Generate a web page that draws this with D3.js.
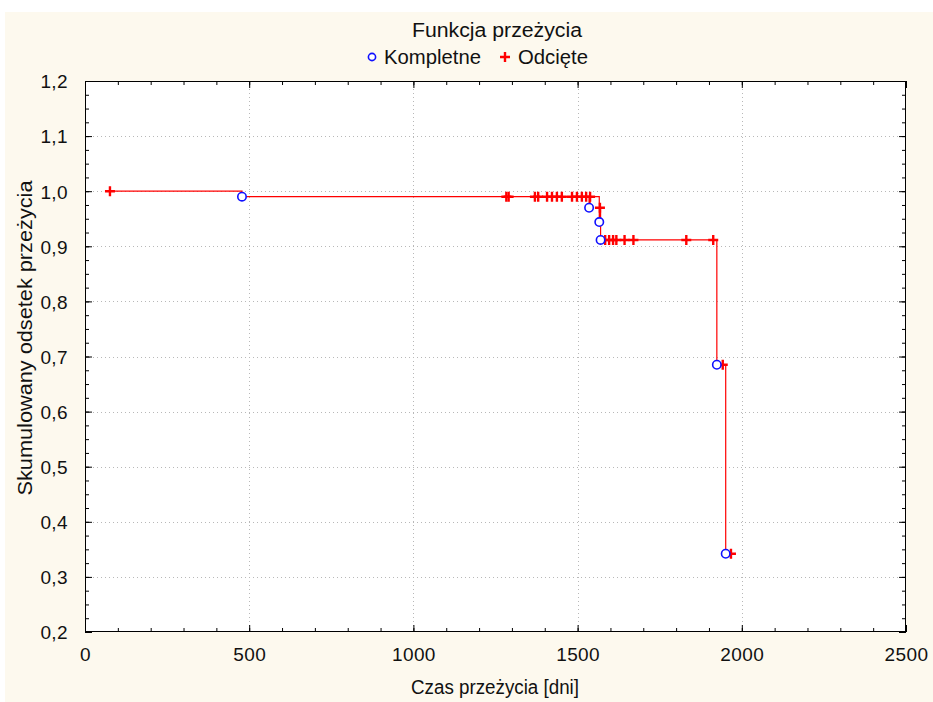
<!DOCTYPE html>
<html><head><meta charset="utf-8">
<script src="https://cdn.jsdelivr.net/npm/d3@7/dist/d3.min.js"></script>
<style>body{margin:0;background:#fff;}svg{display:block;}text{font-family:"Liberation Sans",Arial,sans-serif;fill:#111;}</style>
</head><body><svg id="c" width="933" height="702"></svg>
<script>
// Kompletne (complete / event) observations
const eventTimes = [478, 1535, 1566, 1570, 1924, 1951];
const eventSurv  = [0.990, 0.970, 0.944, 0.9115, 0.685, 0.342];
// Odcięte (censored) observations
const censTimes = [76, 1283, 1290, 1370, 1380, 1407, 1422, 1437, 1452, 1483, 1498, 1513, 1526, 1538,
                   1568, 1584, 1596, 1608, 1618, 1643, 1670, 1831, 1913, 1942, 1967];
const censSurv  = [1.0, 0.99, 0.99, 0.99, 0.99, 0.99, 0.99, 0.99, 0.99, 0.99, 0.99, 0.99, 0.99, 0.99,
                   0.97, 0.9115, 0.9115, 0.9115, 0.9115, 0.9115, 0.9115, 0.9115, 0.9115, 0.685, 0.342];
const xTicks = [0, 500, 1000, 1500, 2000, 2500];
const yTicks = [0.2, 0.3, 0.4, 0.5, 0.6, 0.7, 0.8, 0.9, 1.0, 1.1, 1.2];
const titleText = "Funkcja przeżycia";
const legendLabels = ["Kompletne", "Odcięte"];
const xLabel = "Czas przeżycia [dni]";
const yLabel = "Skumulowany odsetek przeżycia";

const svg = d3.select("#c");
const L = 85, R = 906, T = 81, B = 632;
const x = d3.scaleLinear().domain([0, 2500]).range([L, R]);
const y = d3.scaleLinear().domain([0.2, 1.2]).range([B, T]);
const fmt = d => d3.format(".1f")(d).replace(".", ",");

// backgrounds
svg.append("rect").attr("x", 0).attr("y", 0).attr("width", 933).attr("height", 702).attr("fill", "#fff");
svg.append("rect").attr("x", 5).attr("y", 12).attr("width", 928).attr("height", 690).attr("fill", "#FDF9EE");
svg.append("rect").attr("x", L).attr("y", T).attr("width", R - L).attr("height", B - T).attr("fill", "#fff");

// grid
const g = svg.append("g");
g.selectAll(".gx").data(xTicks.slice(1, -1)).join("line")
  .attr("x1", d => Math.round(x(d)) + 0.5).attr("x2", d => Math.round(x(d)) + 0.5).attr("y1", T).attr("y2", B)
  .attr("stroke", "#b8b8b8").attr("stroke-dasharray", "1,3");
g.selectAll(".gy").data(yTicks.slice(1, -1)).join("line")
  .attr("y1", d => Math.round(y(d)) + 0.5).attr("y2", d => Math.round(y(d)) + 0.5).attr("x1", L).attr("x2", R)
  .attr("stroke", "#b8b8b8").attr("stroke-dasharray", "1,3");

// axes with inward ticks
const xMinor = d3.range(0, 2501, 100);
const yMinor = d3.range(0, 41).map(i => 0.2 + i * 0.025);
svg.append("g").attr("transform", `translate(0,${B})`)
  .call(d3.axisBottom(x).tickValues(xTicks).tickSize(-7).tickPadding(16).tickFormat(d3.format("d")));
svg.append("g").attr("transform", `translate(0,${B})`)
  .call(d3.axisBottom(x).tickValues(xMinor).tickSize(-4).tickFormat(""));
svg.append("g").attr("transform", `translate(0,${T})`)
  .call(d3.axisTop(x).tickValues(xTicks).tickSize(-7).tickFormat(""));
svg.append("g").attr("transform", `translate(0,${T})`)
  .call(d3.axisTop(x).tickValues(xMinor).tickSize(-4).tickFormat(""));
const ay = svg.append("g").attr("transform", `translate(${L},0)`)
  .call(d3.axisLeft(y).tickValues(yTicks).tickSize(-7).tickPadding(17).tickFormat(fmt));
svg.append("g").attr("transform", `translate(${L},0)`)
  .call(d3.axisLeft(y).tickValues(yMinor).tickSize(-4).tickFormat(""));
svg.append("g").attr("transform", `translate(${R},0)`)
  .call(d3.axisRight(y).tickValues(yTicks).tickSize(-7).tickFormat(""));
svg.append("g").attr("transform", `translate(${R},0)`)
  .call(d3.axisRight(y).tickValues(yMinor).tickSize(-4).tickFormat(""));
svg.selectAll(".domain").attr("stroke", "none");
svg.selectAll(".tick line").attr("stroke", "#000");
svg.selectAll(".tick text").attr("font-size", 19).attr("letter-spacing", "0.4px").attr("fill", "#111")
  .attr("font-family", "Liberation Sans, Arial, sans-serif");
ay.selectAll(".tick text").attr("dy", "0.36em");
svg.append("rect").attr("x", L + 0.5).attr("y", T + 0.5).attr("width", R - L - 1).attr("height", B - T - 1)
  .attr("fill", "none").attr("stroke", "#000");

// step line
const pts = eventTimes.map((t, i) => ({t, s: eventSurv[i]}))
  .concat(censTimes.map((t, i) => ({t, s: censSurv[i]})))
  .sort((a, b) => a.t - b.t);
let d = `M${x(pts[0].t)},${y(pts[0].s)}`;
let cur = pts[0].s;
pts.forEach(p => {
  d += `H${x(p.t)}`;
  if (p.s !== cur) { d += `V${y(p.s)}`; cur = p.s; }
});
svg.append("path").attr("d", d).attr("fill", "none").attr("stroke", "#f00").attr("stroke-width", 1.2);

// censored markers
const plus = (sel, cx, cy, r) => sel.append("path")
  .attr("d", `M${cx - r},${cy}H${cx + r}M${cx},${cy - r}V${cy + r}`)
  .attr("stroke", "#f00").attr("stroke-width", 2.4).attr("fill", "none");
const cg = svg.append("g");
censTimes.forEach((t, i) => plus(cg, x(t), y(censSurv[i]), 5));
// event markers
svg.append("g").selectAll("circle").data(eventTimes).join("circle")
  .attr("cx", d => x(d)).attr("cy", (d, i) => y(eventSurv[i])).attr("r", 4.2)
  .attr("fill", "#fff").attr("stroke", "#1010ff").attr("stroke-width", 1.6);

// title & legend
const txt = (xx, yy, s, len, anchor) => svg.append("text").attr("x", xx).attr("y", yy)
  .attr("text-anchor", anchor || "start").attr("font-size", 20)
  .attr("textLength", len).attr("lengthAdjust", "spacingAndGlyphs").text(s);
txt(497, 37, titleText, 170, "middle");
svg.append("circle").attr("cx", 372).attr("cy", 57).attr("r", 3.6).attr("fill", "#fff").attr("stroke", "#1010ff").attr("stroke-width", 1.6);
txt(384, 64, legendLabels[0], 97);
plus(svg, 505, 57, 5);
txt(518, 64, legendLabels[1], 70);

// axis titles
txt(495, 694, xLabel, 168, "middle");
svg.append("text").attr("transform", `translate(32,${338}) rotate(-90)`).attr("text-anchor", "middle")
  .attr("font-size", 20).attr("textLength", 315).attr("lengthAdjust", "spacingAndGlyphs").text(yLabel);
</script></body></html>
